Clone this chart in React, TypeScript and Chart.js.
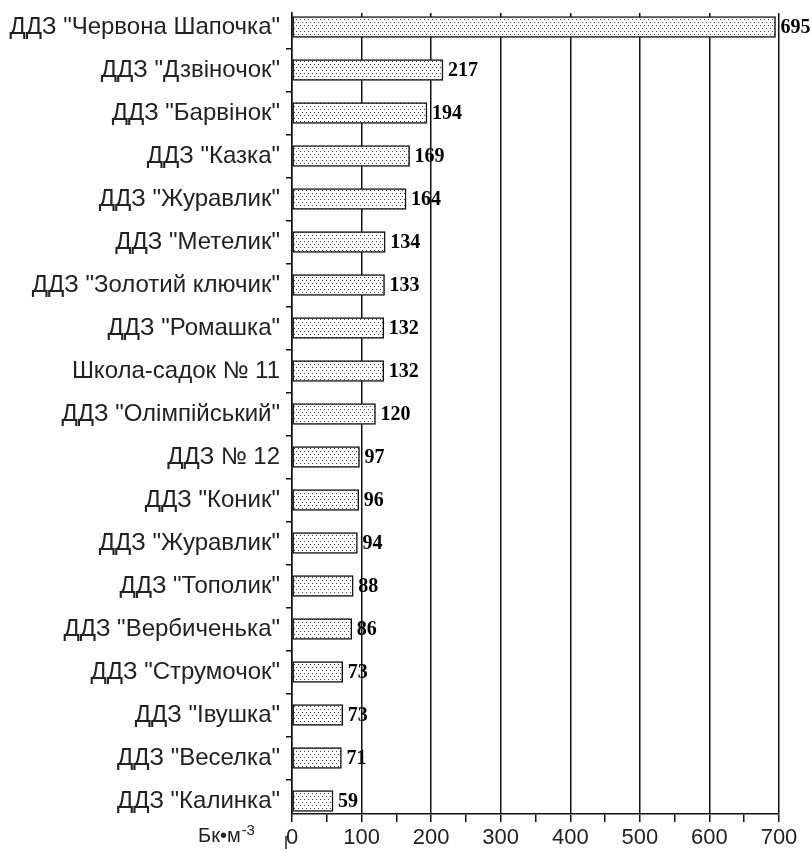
import React, { useEffect, useRef } from "react";
import { Chart, registerables } from "chart.js";

Chart.register(...registerables);

const categories: string[] = [
  'ДДЗ "Червона Шапочка"',
  'ДДЗ "Дзвіночок"',
  'ДДЗ "Барвінок"',
  'ДДЗ "Казка"',
  'ДДЗ "Журавлик"',
  'ДДЗ "Метелик"',
  'ДДЗ "Золотий ключик"',
  'ДДЗ "Ромашка"',
  "Школа-садок № 11",
  'ДДЗ "Олімпійський"',
  "ДДЗ № 12",
  'ДДЗ "Коник"',
  'ДДЗ "Журавлик"',
  'ДДЗ "Тополик"',
  'ДДЗ "Вербиченька"',
  'ДДЗ "Струмочок"',
  'ДДЗ "Івушка"',
  'ДДЗ "Веселка"',
  'ДДЗ "Калинка"',
];

const values: number[] = [695, 217, 194, 169, 164, 134, 133, 132, 132, 120, 97, 96, 94, 88, 86, 73, 73, 71, 59];

const xTickValues: number[] = [0, 50, 100, 150, 200, 250, 300, 350, 400, 450, 500, 550, 600, 650, 700];
const xMajorStep = 100;
const unitText = "Бк•м";
const unitSup = "-3";

function makePattern(): CanvasPattern | string {
  const c = document.createElement("canvas");
  c.width = 4;
  c.height = 6;
  const g = c.getContext("2d");
  if (!g) return "#eee";
  g.fillStyle = "#ffffff";
  g.fillRect(0, 0, 4, 6);
  g.fillStyle = "#444444";
  g.fillRect(0, 1, 1, 1);
  g.fillRect(2, 4, 1, 1);
  const p = g.createPattern(c, "repeat");
  return p || "#eee";
}

export default function App() {
  const ref = useRef<HTMLCanvasElement | null>(null);

  useEffect(() => {
    document.body.style.margin = "0";
    const canvas = ref.current;
    if (!canvas) return;
    const ctx = canvas.getContext("2d");
    if (!ctx) return;

    const valueLabels = {
      id: "valueLabels",
      afterDatasetsDraw(chart: any) {
        const c = chart.ctx;
        const meta = chart.getDatasetMeta(0);
        c.save();
        c.font = 'bold 20px "Liberation Serif", "Times New Roman", serif';
        c.fillStyle = "#000";
        c.textAlign = "left";
        c.textBaseline = "middle";
        meta.data.forEach((bar: any, i: number) => {
          c.fillText(String(values[i]), bar.x + 5, bar.y + 1);
        });
        c.restore();
      },
    };

    const unitLabel = {
      id: "unitLabel",
      afterDraw(chart: any) {
        const c = chart.ctx;
        const xs = chart.scales.x;
        const left = xs.left;
        c.save();
        c.fillStyle = "#222";
        c.textBaseline = "alphabetic";
        c.textAlign = "left";
        c.font = '20px "Liberation Sans", Arial, sans-serif';
        const baseY = xs.top + 28;
        const x0 = left - 94;
        c.fillText(unitText, x0, baseY);
        const w = c.measureText(unitText).width;
        c.font = '15px "Liberation Sans", Arial, sans-serif';
        c.fillText(unitSup, x0 + w + 1, baseY - 7);
        c.strokeStyle = "#222";
        c.lineWidth = 1.5;
        c.beginPath();
        c.moveTo(left - 6, xs.top + 22);
        c.lineTo(left - 6, xs.top + 35);
        c.stroke();
        c.restore();
      },
    };

    const chart = new Chart(ctx, {
      type: "bar",
      data: {
        datasets: [
          {
            data: values.map((v, i) => ({ x: v, y: i })),
            backgroundColor: makePattern() as any,
            borderColor: "#111",
            borderWidth: 1.5,
            borderSkipped: false,
            barThickness: 21,
          },
        ],
      },
      options: {
        indexAxis: "y",
        responsive: false,
        animation: false,
        devicePixelRatio: 1,
        layout: { padding: { top: 13, right: 33, left: 0, bottom: 0 } },
        plugins: {
          legend: { display: false },
          tooltip: { enabled: false },
        },
        scales: {
          x: {
            type: "linear",
            min: 0,
            max: 700,
            afterBuildTicks: (scale: any) => {
              scale.ticks = xTickValues.map((v) => ({ value: v }));
            },
            afterFit: (scale: any) => {
              scale.height = 36;
            },
            ticks: {
              autoSkip: false,
              maxRotation: 0,
              padding: 3,
              color: "#222",
              font: { family: '"Liberation Sans", Arial, sans-serif', size: 22 },
              callback: (v: any) => (Number(v) % xMajorStep === 0 ? String(v) : ""),
            },
            grid: {
              color: (c: any) => (c.tick && c.tick.value % xMajorStep === 0 ? "#111" : "rgba(0,0,0,0)"),
              tickColor: "#111",
              lineWidth: 1.5,
              tickLength: 8,
            },
            border: { display: true, color: "#111", width: 1.5 },
          },
          y: {
            type: "linear",
            offset: false,
            reverse: true,
            min: -14 / 43,
            max: categories.length - 1 + 13 / 43,
            afterBuildTicks: (scale: any) => {
              scale.ticks = categories.map((_, i) => ({ value: i }));
            },
            afterFit: (scale: any) => {
              scale.width = 292;
              scale.paddingTop = 0;
              scale.paddingBottom = 0;
            },
            ticks: {
              autoSkip: false,
              padding: 6,
              color: "#222",
              font: { family: '"Liberation Sans", Arial, sans-serif', size: 24 },
              callback: (v: any) => categories[Number(v)] ?? "",
            },
            grid: {
              offset: true,
              drawOnChartArea: false,
              drawTicks: true,
              tickLength: 6,
              tickColor: "#111",
              lineWidth: 1.5,
            },
            border: { display: true, color: "#111", width: 1.5 },
          },
        },
      },
      plugins: [valueLabels, unitLabel],
    });

    return () => chart.destroy();
  }, []);

  return (
    <div style={{ width: 812, height: 850 }}>
      <canvas ref={ref} width={812} height={850} />
    </div>
  );
}
